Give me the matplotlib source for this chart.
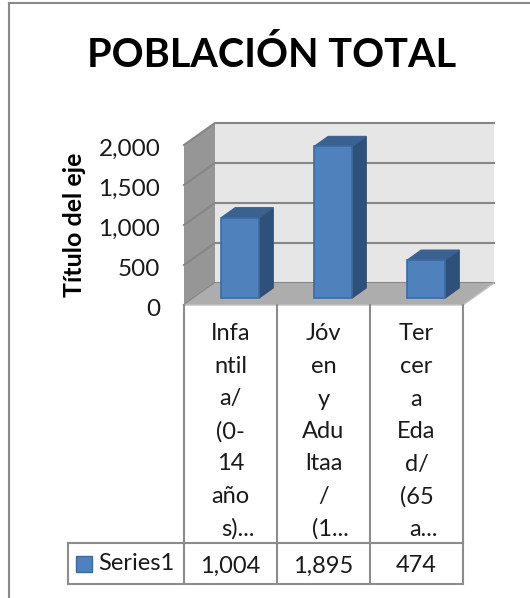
# -*- coding: utf-8 -*-
import matplotlib
matplotlib.use("Agg")
import matplotlib.pyplot as plt
from matplotlib.patches import Polygon, Rectangle
from matplotlib.transforms import ScaledTranslation

CATEGORIES = [
    ["Infa", "ntil", "a/", "(0-", "14", "año", "s)..."],
    ["Jóv", "en", "y", "Adu", "ltaa", "/", "(1..."],
    ["Ter", "cer", "a", "Eda", "d/", "(65", "a..."],
]
VALUES = [1004, 1895, 474]
VALUE_LABELS = ["1,004", "1,895", "474"]
YTICKS = [0, 500, 1000, 1500, 2000]
YTICK_LABELS = ["0", "500", "1,000", "1,500", "2,000"]
SERIES = "Series1"
TITLE = "POBLACIÓN TOTAL"
YLABEL = "Título del eje"

W, H = 530, 598
BLUE = "#4f81bd"
BLUE_EDGE = "#3c6a9f"
BLUE_TOP = "#3a6190"
BLUE_SIDE = "#2f5078"
GRID = "#868686"
WALL = "#e6e6e6"
SIDE = "#969696"
FLOOR = "#adadad"
LINE = "#8c8c8c"
FONT = "Lato"

# front plane of the 3d box, in pixels
X0, X1 = 184, 463
Y0, Y1 = 305, 145
DX = 1 / 3           # box depth in category units
DY = 275             # box depth in value units
BAR_W = 0.41
BAR_DEPTH = 0.15     # bar depth in category units
BAR_DEPTH_Y = 125
BAR_OFF = 0.105      # shift of bars off the front edge
BAR_OFF_Y = 88

fig = plt.figure(figsize=(W / 100, H / 100), dpi=100, facecolor="white")

# pixel overlay for frame, title and table
px = fig.add_axes([0, 0, 1, 1], zorder=3)
px.set_xlim(0, W)
px.set_ylim(H, 0)
px.axis("off")
px.patch.set_alpha(0)

# chart axes, one unit per category
ax = fig.add_axes([X0 / W, 1 - Y0 / H, (X1 - X0) / W, (Y0 - Y1) / H], zorder=2)
ax.set_xlim(0, 3)
ax.set_ylim(0, 2000)
ax.patch.set_alpha(0)
for s in ax.spines.values():
    s.set_visible(False)
ax.set_xticks([])
ax.set_yticks(YTICKS)
ax.set_yticklabels(YTICK_LABELS, fontsize=17.5, family=FONT, color="#1a1a1a")
ax.tick_params(axis="y", length=0, pad=17)
# tick labels sit a touch below their gridline level
nudge = ScaledTranslation(0, -2 / 100, fig.dpi_scale_trans)
for lbl in ax.get_yticklabels():
    lbl.set_transform(lbl.get_transform() + nudge)
ax.set_ylabel(YLABEL, fontsize=18, family=FONT, fontweight="bold", labelpad=9)

top = YTICKS[-1]
ax.add_patch(Polygon([(DX, DY), (3 + DX, DY), (3 + DX, top + DY), (DX, top + DY)],
                     fc=WALL, ec="none", clip_on=False, zorder=1))
ax.add_patch(Polygon([(0, 0), (DX, DY), (DX, top + DY), (0, top)],
                     fc=SIDE, ec="none", clip_on=False, zorder=1))
ax.add_patch(Polygon([(0, 0), (3, 0), (3 + DX, DY), (DX, DY)],
                     fc=FLOOR, ec="none", clip_on=False, zorder=2))
for t in YTICKS:
    ax.plot([0, DX, 3 + DX], [t, t + DY, t + DY], color=GRID, lw=1.5,
            clip_on=False, zorder=1.5, solid_joinstyle="miter")
ax.plot([0, 3, 3 + DX], [0, 0, DY], color="#c0c0c0", lw=1, clip_on=False, zorder=2.5)

for i, v in enumerate(VALUES):
    x0 = i + 0.5 + BAR_OFF - BAR_W / 2
    x1 = x0 + BAR_W
    y0 = BAR_OFF_Y
    y1 = v + BAR_OFF_Y
    ax.add_patch(Polygon([(x1, y0), (x1 + BAR_DEPTH, y0 + BAR_DEPTH_Y),
                          (x1 + BAR_DEPTH, y1 + BAR_DEPTH_Y), (x1, y1)],
                         fc=BLUE_SIDE, ec=BLUE_SIDE, lw=0.8, clip_on=False, zorder=3))
    ax.add_patch(Polygon([(x0, y1), (x1, y1), (x1 + BAR_DEPTH, y1 + BAR_DEPTH_Y),
                          (x0 + BAR_DEPTH, y1 + BAR_DEPTH_Y)],
                         fc=BLUE_TOP, ec=BLUE_TOP, lw=0.8, clip_on=False, zorder=3))
    ax.bar(i + 0.5 + BAR_OFF, v, bottom=BAR_OFF_Y, width=BAR_W, color=BLUE,
           edgecolor=BLUE_EDGE, linewidth=1.2, clip_on=False, zorder=4)

# outer frame, only left and top show
px.plot([9, 9], [H, 3], color="#8a8a8a", lw=1.5)
px.plot([9, W], [3, 3], color="#8a8a8a", lw=1.5)

px.text(272, 55, TITLE, fontsize=28.5, family=FONT, fontweight="bold",
        ha="center", va="center", color="black")

# data table
col_w = (X1 - X0) / len(VALUES)
TABLE_TOP, ROW_Y, TABLE_BOTTOM, LEG_X = 305, 543, 584, 68
for i in range(len(VALUES) + 1):
    x = X0 + i * col_w
    px.plot([x, x], [TABLE_TOP, TABLE_BOTTOM], color=LINE, lw=1.5)
px.plot([LEG_X, X1], [ROW_Y, ROW_Y], color=LINE, lw=1.5)
px.plot([LEG_X, X1], [TABLE_BOTTOM, TABLE_BOTTOM], color=LINE, lw=1.5)
px.plot([LEG_X, LEG_X], [ROW_Y, TABLE_BOTTOM], color=LINE, lw=1.5)

for i, lines in enumerate(CATEGORIES):
    cx = X0 + (i + 0.5) * col_w
    for j, s in enumerate(lines):
        shift = 7 if j == len(lines) - 1 else 0
        px.text(cx + shift, 334 + j * 32.5, s, fontsize=17, family=FONT,
                ha="center", va="center", color="#1a1a1a")
    px.text(cx, 566, VALUE_LABELS[i], fontsize=17, family=FONT,
            ha="center", va="center", color="#1a1a1a")

px.add_patch(Rectangle((76, 556), 16, 16, fc=BLUE, ec=BLUE_EDGE, lw=1))
px.text(98, 564, SERIES, fontsize=17, family=FONT, ha="left", va="center", color="#1a1a1a")

fig.savefig("out.png", dpi=100, facecolor="white")
